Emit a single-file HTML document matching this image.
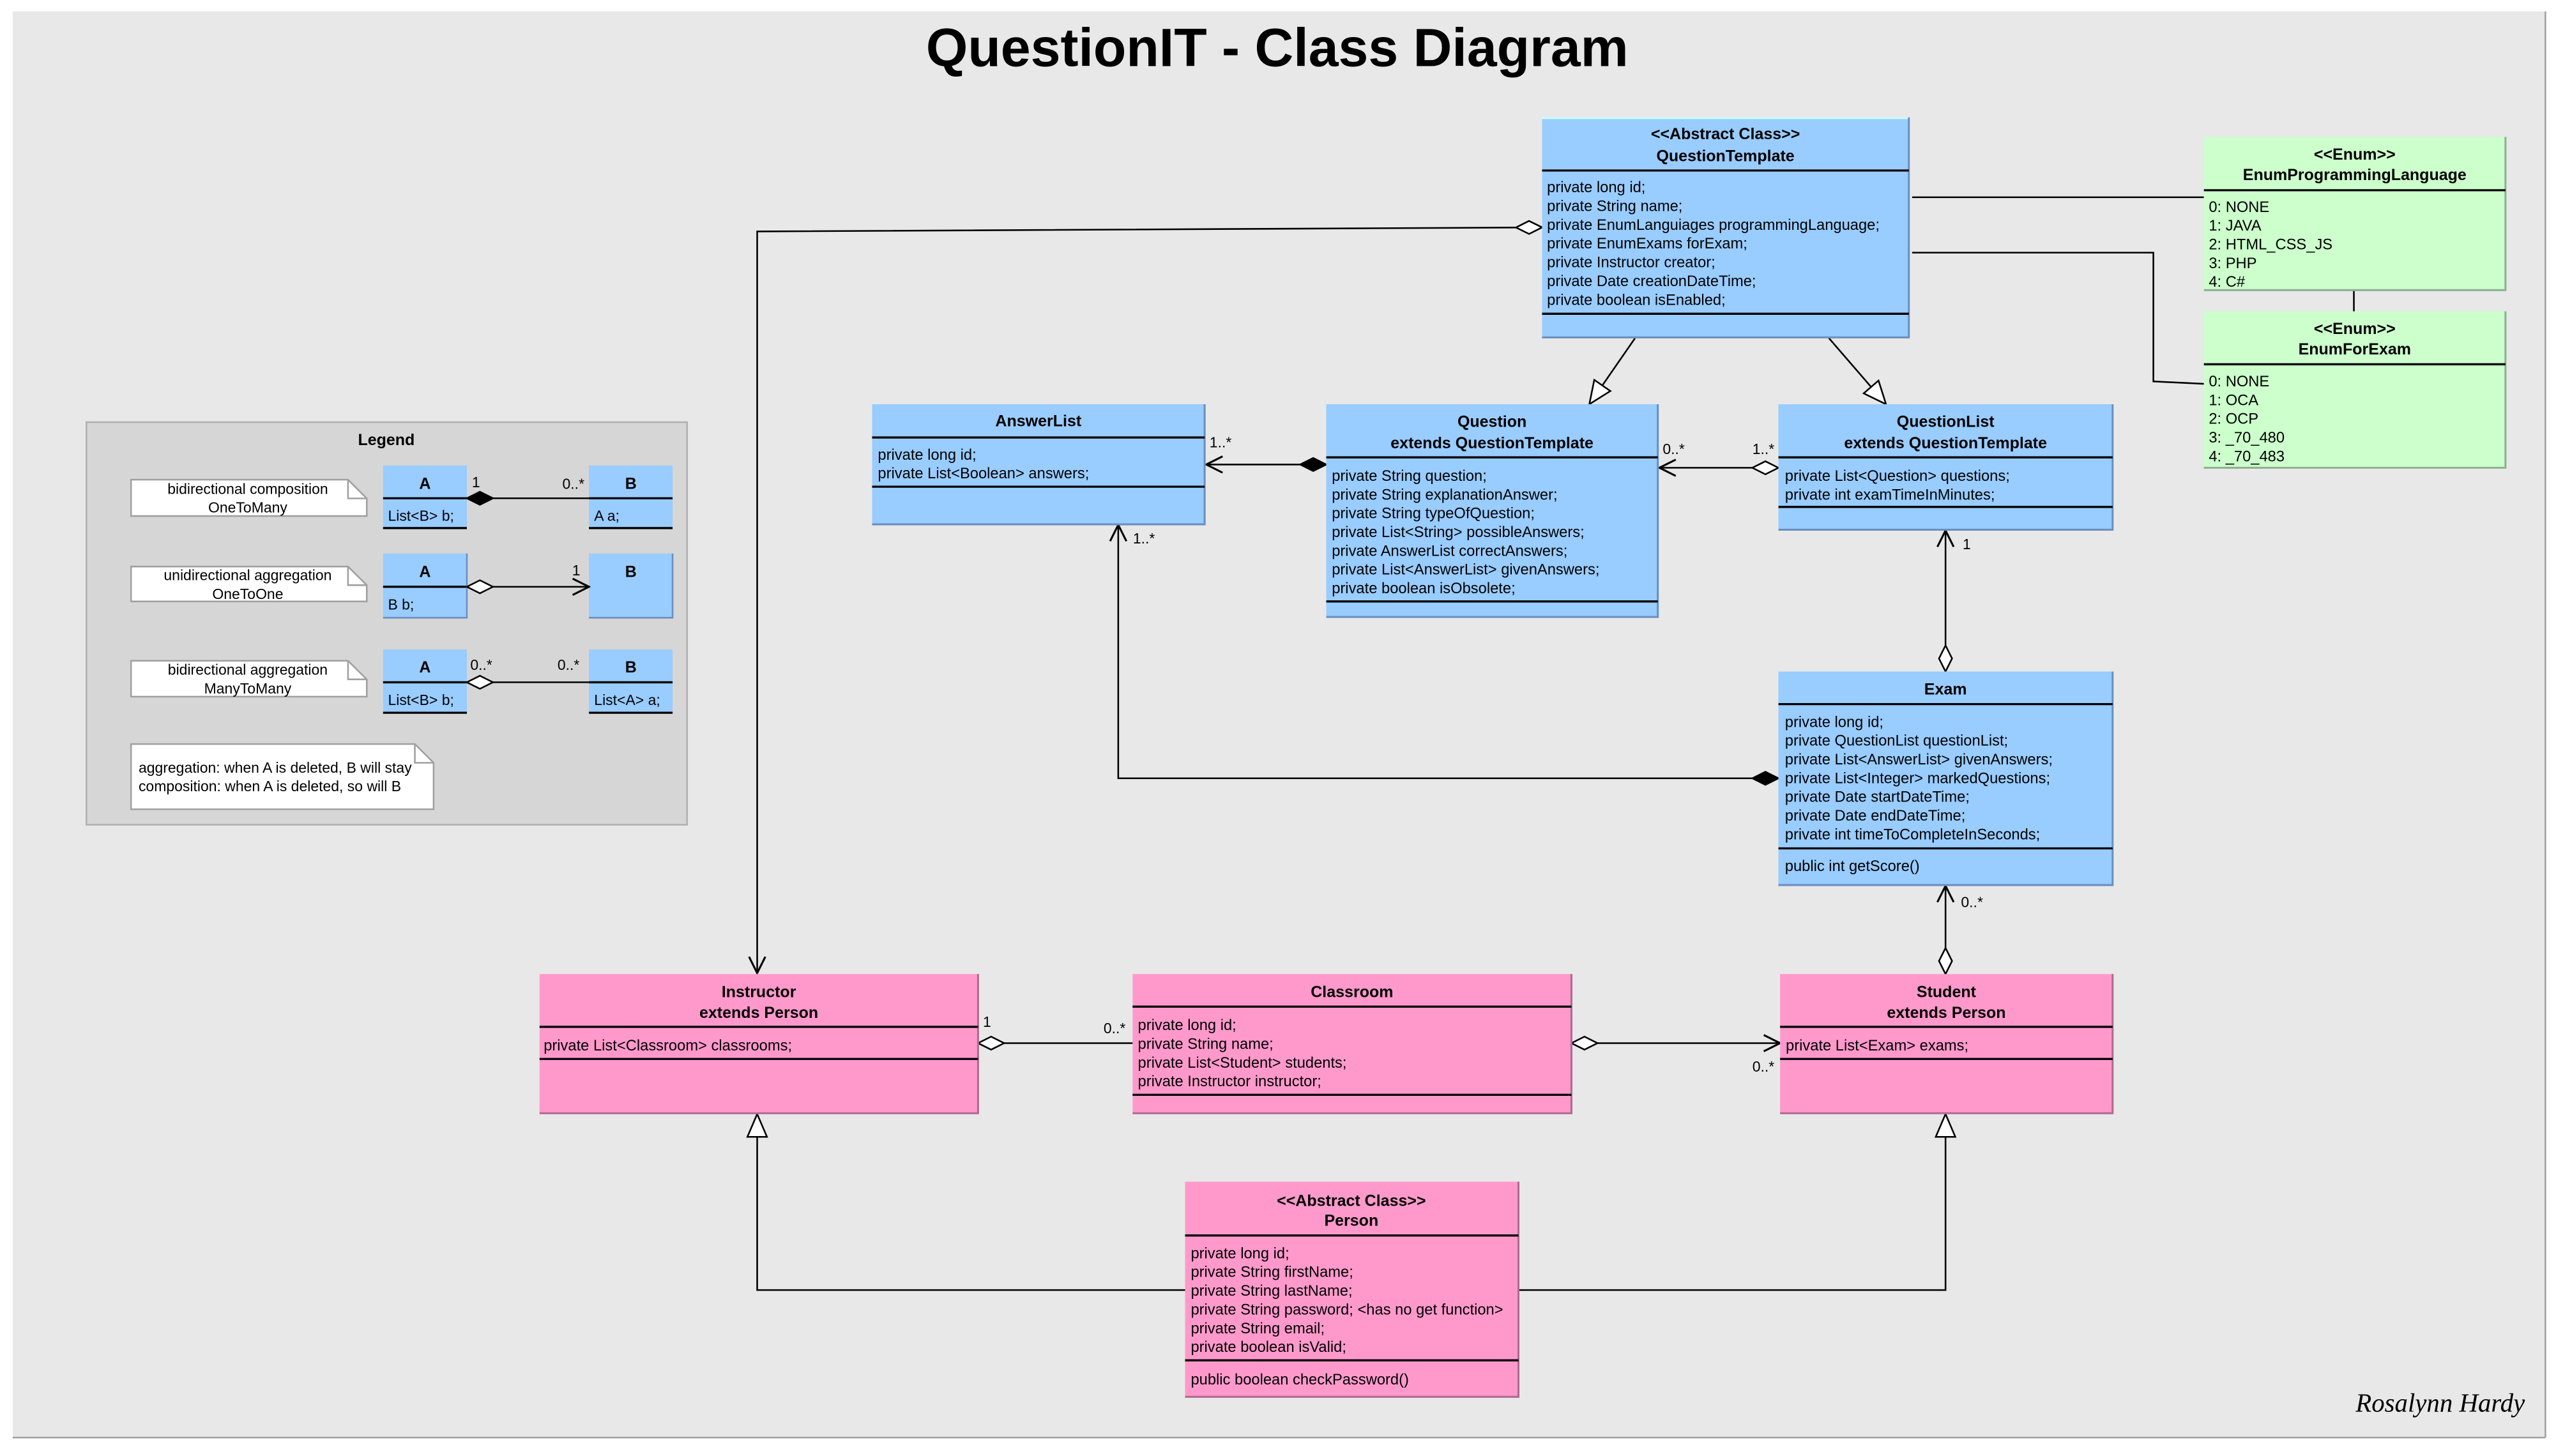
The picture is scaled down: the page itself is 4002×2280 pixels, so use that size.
<!DOCTYPE html>
<html><head><meta charset="utf-8">
<style>
html,body{margin:0;padding:0;background:#fff;}
svg{display:block;}
text{font-family:"Liberation Sans",Arial,sans-serif;fill:#000;}
.a{font-size:9.3px;}
.h{font-size:9.8px;font-weight:bold;}
.m{font-size:9px;}
.ln{stroke:#000;stroke-width:1;fill:none;}
.dv{stroke:#000;stroke-width:1.3;}
</style></head>
<body>
<svg width="4002" height="2280" viewBox="0 0 1568 893.3" xmlns="http://www.w3.org/2000/svg">
<defs>
<marker id="open" viewBox="0 0 12 12" refX="11" refY="6" markerWidth="12" markerHeight="12" markerUnits="userSpaceOnUse" orient="auto">
<path d="M1,1 L11,6 L1,11" fill="none" stroke="#000" stroke-width="1.2"/></marker>
<marker id="tri" viewBox="0 0 16 14" refX="15" refY="7" markerWidth="16" markerHeight="14" markerUnits="userSpaceOnUse" orient="auto">
<path d="M1,1 L15,7 L1,13 Z" fill="#fff" stroke="#000" stroke-width="1"/></marker>
<marker id="hd" viewBox="0 0 20 10" refX="1" refY="5" markerWidth="20" markerHeight="10" markerUnits="userSpaceOnUse" orient="auto">
<path d="M1,5 L9,1 L17,5 L9,9 Z" fill="#fff" stroke="#000" stroke-width="1"/></marker>
<marker id="fd" viewBox="0 0 20 10" refX="1" refY="5" markerWidth="20" markerHeight="10" markerUnits="userSpaceOnUse" orient="auto">
<path d="M1,5 L9,1 L17,5 L9,9 Z" fill="#000" stroke="#000" stroke-width="1"/></marker>
</defs>

<rect x="7.8" y="7" width="1553.7" height="875" fill="#e8e8e8"/>
<line x1="1561.5" y1="7" x2="1561.5" y2="882" stroke="#a0a0a0" stroke-width="1"/>
<line x1="7.8" y1="882" x2="1561.5" y2="882" stroke="#a0a0a0" stroke-width="1"/>

<text x="783.5" y="40.5" text-anchor="middle" style="font-size:33px;font-weight:bold">QuestionIT - Class Diagram</text>

<!-- Legend -->
<rect x="53" y="259" width="368.5" height="247" fill="#d6d6d6" stroke="#b0b0b0" stroke-width="1"/>
<text x="237" y="273" text-anchor="middle" class="h">Legend</text>

<g fill="#fff" stroke="#a0a0a0" stroke-width="1">
<path d="M80.4,294.3 H213.5 L225,305.8 V316.6 H80.4 Z"/>
<path d="M80.4,347.6 H213.5 L225,359 V369 H80.4 Z"/>
<path d="M80.4,405.4 H213.5 L225,416.8 V427.4 H80.4 Z"/>
<path d="M80.4,456.5 H254.5 L266,468 V496.5 H80.4 Z"/>
</g>
<g fill="none" stroke="#a0a0a0" stroke-width="1">
<path d="M213.5,294.3 V305.8 H225"/><path d="M213.5,347.6 V359 H225"/>
<path d="M213.5,405.4 V416.8 H225"/><path d="M254.5,456.5 V468 H266"/>
</g>
<text x="152" y="303" text-anchor="middle" class="m">bidirectional composition</text>
<text x="152" y="314.5" text-anchor="middle" class="m">OneToMany</text>
<text x="152" y="356" text-anchor="middle" class="m">unidirectional aggregation</text>
<text x="152" y="367.5" text-anchor="middle" class="m">OneToOne</text>
<text x="152" y="414" text-anchor="middle" class="m">bidirectional aggregation</text>
<text x="152" y="425.5" text-anchor="middle" class="m">ManyToMany</text>
<text x="85" y="474" class="m">aggregation: when A is deleted, B will stay</text>
<text x="85" y="485.5" class="m">composition: when A is deleted, so will B</text>

<g fill="#99ccff">
<rect x="235" y="285.6" width="51.4" height="38.9"/><rect x="361.3" y="285.6" width="51.3" height="38.9"/>
<rect x="235" y="339.6" width="51.4" height="39.4"/><rect x="361.3" y="339.6" width="51.3" height="39.4"/>
<rect x="235" y="398.5" width="51.4" height="39.2"/><rect x="361.3" y="398.5" width="51.3" height="39.2"/>
</g>
<g class="dv">
<line x1="235" y1="305.7" x2="286.4" y2="305.7"/><line x1="361.3" y1="305.7" x2="412.6" y2="305.7"/>
<line x1="235" y1="324" x2="286.4" y2="324"/><line x1="361.3" y1="324" x2="412.6" y2="324"/>
<line x1="235" y1="360" x2="286.4" y2="360"/>
<line x1="235" y1="418.6" x2="286.4" y2="418.6"/><line x1="361.3" y1="418.6" x2="412.6" y2="418.6"/>
<line x1="235" y1="437.3" x2="286.4" y2="437.3"/><line x1="361.3" y1="437.3" x2="412.6" y2="437.3"/>
</g>
<g stroke="#6a8fc0" stroke-width="1" fill="none">
<path d="M286.4,339.6 V379 H235"/><path d="M412.6,339.6 V379 H361.3"/>
</g>
<g class="h" text-anchor="middle">
<text x="260.7" y="300">A</text><text x="387" y="300">B</text>
<text x="260.7" y="354">A</text><text x="387" y="354">B</text>
<text x="260.7" y="412.5">A</text><text x="387" y="412.5">B</text>
</g>
<g class="m">
<text x="238" y="319.5">List&lt;B&gt; b;</text><text x="364.5" y="319.5">A a;</text>
<text x="238" y="374">B b;</text>
<text x="238" y="432.5">List&lt;B&gt; b;</text><text x="364.5" y="432.5">List&lt;A&gt; a;</text>
<text x="289.5" y="299">1</text><text x="345" y="300">0..*</text>
<text x="351" y="353">1</text>
<text x="288.5" y="411">0..*</text><text x="342" y="411">0..*</text>
</g>
<line x1="286.4" y1="305.7" x2="361.3" y2="305.7" class="ln" marker-start="url(#fd)"/>
<line x1="286.4" y1="360" x2="361.3" y2="360" class="ln" marker-start="url(#hd)" marker-end="url(#open)"/>
<line x1="286.4" y1="418.6" x2="361.3" y2="418.6" class="ln" marker-start="url(#hd)"/>

<!-- Connectors -->
<line x1="1173" y1="121" x2="1352" y2="121" class="ln"/>
<path d="M1173,155 H1321 V234 L1352,235.5" class="ln"/>
<line x1="1444" y1="178" x2="1444" y2="191" class="ln"/>

<line x1="1003" y1="207.5" x2="975" y2="248" class="ln" marker-end="url(#tri)"/>
<line x1="1122" y1="207.5" x2="1157" y2="248" class="ln" marker-end="url(#tri)"/>

<path d="M946,139.5 L464.5,142 V597" class="ln" marker-start="url(#hd)" marker-end="url(#open)"/>

<line x1="813.6" y1="285" x2="740" y2="285" class="ln" marker-start="url(#fd)" marker-end="url(#open)"/>
<line x1="1091" y1="287" x2="1018" y2="287" class="ln" marker-start="url(#hd)" marker-end="url(#open)"/>
<path d="M1091,477.5 H686 V322" class="ln" marker-start="url(#fd)" marker-end="url(#open)"/>
<line x1="1193.5" y1="412" x2="1193.5" y2="325.5" class="ln" marker-start="url(#hd)" marker-end="url(#open)"/>
<line x1="1193.5" y1="597.6" x2="1193.5" y2="543.5" class="ln" marker-start="url(#hd)" marker-end="url(#open)"/>
<line x1="600" y1="640" x2="694.8" y2="640" class="ln" marker-start="url(#hd)"/>
<line x1="964" y1="640" x2="1092" y2="640" class="ln" marker-start="url(#hd)" marker-end="url(#open)"/>
<path d="M727,791.5 H464.5 V683.5" class="ln" marker-end="url(#tri)"/>
<path d="M931.5,791.5 H1193.5 V683.5" class="ln" marker-end="url(#tri)"/>

<g class="m">
<text x="742" y="274.5">1..*</text>
<text x="1020" y="278.5">0..*</text><text x="1075" y="278.5">1..*</text>
<text x="695" y="333.5">1..*</text>
<text x="1204" y="337">1</text>
<text x="1203" y="556.5">0..*</text>
<text x="603" y="630">1</text><text x="677" y="634">0..*</text>
<text x="1075" y="657.5">0..*</text>
</g>

<!-- QuestionTemplate -->
<rect x="946" y="72" width="225" height="135" fill="#99ccff"/>
<path d="M946,72.5 H1171" stroke="#ccffff" stroke-width="1"/>
<path d="M1171,72 V207 H946" stroke="#6a8fc0" stroke-width="1.2" fill="none"/>
<line x1="946" y1="104.6" x2="1171" y2="104.6" class="dv"/>
<line x1="946" y1="192.5" x2="1171" y2="192.5" class="dv"/>
<text x="1058.5" y="85.5" text-anchor="middle" class="h">&lt;&lt;Abstract Class&gt;&gt;</text>
<text x="1058.5" y="99" text-anchor="middle" class="h">QuestionTemplate</text>
<g class="a">
<text x="949" y="118">private long id;</text>
<text x="949" y="129.5">private String name;</text>
<text x="949" y="141">private EnumLanguiages programmingLanguage;</text>
<text x="949" y="152.5">private EnumExams forExam;</text>
<text x="949" y="164">private Instructor creator;</text>
<text x="949" y="175.5">private Date creationDateTime;</text>
<text x="949" y="187">private boolean isEnabled;</text>
</g>

<!-- Enums -->
<rect x="1352" y="84" width="185" height="94" fill="#ccffcc"/>
<path d="M1537,84 V178 H1352" stroke="#8fb08f" stroke-width="1.2" fill="none"/>
<line x1="1352" y1="116.7" x2="1537" y2="116.7" class="dv"/>
<text x="1444.5" y="98" text-anchor="middle" class="h">&lt;&lt;Enum&gt;&gt;</text>
<text x="1444.5" y="110.5" text-anchor="middle" class="h">EnumProgrammingLanguage</text>
<g class="a">
<text x="1355" y="130">0: NONE</text><text x="1355" y="141.5">1: JAVA</text>
<text x="1355" y="153">2: HTML_CSS_JS</text><text x="1355" y="164.5">3: PHP</text>
<text x="1355" y="176">4: C#</text>
</g>
<rect x="1352" y="191" width="185" height="96" fill="#ccffcc"/>
<path d="M1537,191 V287 H1352" stroke="#8fb08f" stroke-width="1.2" fill="none"/>
<line x1="1352" y1="223.5" x2="1537" y2="223.5" class="dv"/>
<text x="1444.5" y="205" text-anchor="middle" class="h">&lt;&lt;Enum&gt;&gt;</text>
<text x="1444.5" y="217.5" text-anchor="middle" class="h">EnumForExam</text>
<g class="a">
<text x="1355" y="237">0: NONE</text><text x="1355" y="248.5">1: OCA</text>
<text x="1355" y="260">2: OCP</text><text x="1355" y="271.5">3: _70_480</text>
<text x="1355" y="283">4: _70_483</text>
</g>

<!-- AnswerList -->
<rect x="535" y="248" width="204" height="73.7" fill="#99ccff"/>
<path d="M739,248 V321.7 H535" stroke="#6a8fc0" stroke-width="1.2" fill="none"/>
<line x1="535" y1="268.4" x2="739" y2="268.4" class="dv"/>
<line x1="535" y1="298.6" x2="739" y2="298.6" class="dv"/>
<text x="637" y="261.5" text-anchor="middle" class="h">AnswerList</text>
<g class="a"><text x="538.5" y="282">private long id;</text><text x="538.5" y="293.5">private List&lt;Boolean&gt; answers;</text></g>

<!-- Question -->
<rect x="813.6" y="248" width="203.4" height="130.5" fill="#99ccff"/>
<path d="M1017,248 V378.5 H813.6" stroke="#6a8fc0" stroke-width="1.2" fill="none"/>
<line x1="813.6" y1="280.6" x2="1017" y2="280.6" class="dv"/>
<line x1="813.6" y1="369" x2="1017" y2="369" class="dv"/>
<text x="915.3" y="262" text-anchor="middle" class="h">Question</text>
<text x="915.3" y="275" text-anchor="middle" class="h">extends QuestionTemplate</text>
<g class="a">
<text x="817" y="295">private String question;</text>
<text x="817" y="306.5">private String explanationAnswer;</text>
<text x="817" y="318">private String typeOfQuestion;</text>
<text x="817" y="329.5">private List&lt;String&gt; possibleAnswers;</text>
<text x="817" y="341">private AnswerList correctAnswers;</text>
<text x="817" y="352.5">private List&lt;AnswerList&gt; givenAnswers;</text>
<text x="817" y="364">private boolean isObsolete;</text>
</g>

<!-- QuestionList -->
<rect x="1091" y="248" width="205" height="77" fill="#99ccff"/>
<path d="M1296,248 V325 H1091" stroke="#6a8fc0" stroke-width="1.2" fill="none"/>
<line x1="1091" y1="280.6" x2="1296" y2="280.6" class="dv"/>
<line x1="1091" y1="311" x2="1296" y2="311" class="dv"/>
<text x="1193.5" y="262" text-anchor="middle" class="h">QuestionList</text>
<text x="1193.5" y="275" text-anchor="middle" class="h">extends QuestionTemplate</text>
<g class="a"><text x="1095" y="295">private List&lt;Question&gt; questions;</text><text x="1095" y="306.5">private int examTimeInMinutes;</text></g>

<!-- Exam -->
<rect x="1091" y="412" width="205" height="131" fill="#99ccff"/>
<path d="M1296,412 V543 H1091" stroke="#6a8fc0" stroke-width="1.2" fill="none"/>
<line x1="1091" y1="432" x2="1296" y2="432" class="dv"/>
<line x1="1091" y1="520.5" x2="1296" y2="520.5" class="dv"/>
<text x="1193.5" y="426" text-anchor="middle" class="h">Exam</text>
<g class="a">
<text x="1095" y="446">private long id;</text>
<text x="1095" y="457.5">private QuestionList questionList;</text>
<text x="1095" y="469">private List&lt;AnswerList&gt; givenAnswers;</text>
<text x="1095" y="480.5">private List&lt;Integer&gt; markedQuestions;</text>
<text x="1095" y="492">private Date startDateTime;</text>
<text x="1095" y="503.5">private Date endDateTime;</text>
<text x="1095" y="515">private int timeToCompleteInSeconds;</text>
<text x="1095" y="534.5">public int getScore()</text>
</g>

<!-- Instructor -->
<rect x="331" y="597.6" width="269" height="85.4" fill="#ff99cc"/>
<path d="M600,597.6 V683 H331" stroke="#b06a8f" stroke-width="1.2" fill="none"/>
<line x1="331" y1="630" x2="600" y2="630" class="dv"/>
<line x1="331" y1="649.7" x2="600" y2="649.7" class="dv"/>
<text x="465.5" y="611.8" text-anchor="middle" class="h">Instructor</text>
<text x="465.5" y="624.5" text-anchor="middle" class="h">extends Person</text>
<text x="333.5" y="644.5" class="a">private List&lt;Classroom&gt; classrooms;</text>

<!-- Classroom -->
<rect x="694.8" y="597.6" width="269.2" height="85.4" fill="#ff99cc"/>
<path d="M964,597.6 V683 H694.8" stroke="#b06a8f" stroke-width="1.2" fill="none"/>
<line x1="694.8" y1="617.6" x2="964" y2="617.6" class="dv"/>
<line x1="694.8" y1="671.7" x2="964" y2="671.7" class="dv"/>
<text x="829.4" y="611.8" text-anchor="middle" class="h">Classroom</text>
<g class="a">
<text x="698" y="632">private long id;</text>
<text x="698" y="643.5">private String name;</text>
<text x="698" y="655">private List&lt;Student&gt; students;</text>
<text x="698" y="666.5">private Instructor instructor;</text>
</g>

<!-- Student -->
<rect x="1092" y="597.6" width="204" height="85.4" fill="#ff99cc"/>
<path d="M1296,597.6 V683 H1092" stroke="#b06a8f" stroke-width="1.2" fill="none"/>
<line x1="1092" y1="630" x2="1296" y2="630" class="dv"/>
<line x1="1092" y1="649.7" x2="1296" y2="649.7" class="dv"/>
<text x="1194" y="611.8" text-anchor="middle" class="h">Student</text>
<text x="1194" y="624.5" text-anchor="middle" class="h">extends Person</text>
<text x="1095.5" y="644.5" class="a">private List&lt;Exam&gt; exams;</text>

<!-- Person -->
<rect x="727" y="725" width="204.5" height="132" fill="#ff99cc"/>
<path d="M931.5,725 V857 H727" stroke="#b06a8f" stroke-width="1.2" fill="none"/>
<line x1="727" y1="758" x2="931.5" y2="758" class="dv"/>
<line x1="727" y1="834.6" x2="931.5" y2="834.6" class="dv"/>
<text x="829" y="740" text-anchor="middle" class="h">&lt;&lt;Abstract Class&gt;&gt;</text>
<text x="829" y="752" text-anchor="middle" class="h">Person</text>
<g class="a">
<text x="730.5" y="772">private long id;</text>
<text x="730.5" y="783.5">private String firstName;</text>
<text x="730.5" y="795">private String lastName;</text>
<text x="730.5" y="806.5">private String password; &lt;has no get function&gt;</text>
<text x="730.5" y="818">private String email;</text>
<text x="730.5" y="829.5">private boolean isValid;</text>
<text x="730.5" y="849.5">public boolean checkPassword()</text>
</g>

<text x="1497" y="866" text-anchor="middle" style="font-family:'Liberation Serif',serif;font-style:italic;font-size:16px">Rosalynn Hardy</text>
</svg>
</body></html>
